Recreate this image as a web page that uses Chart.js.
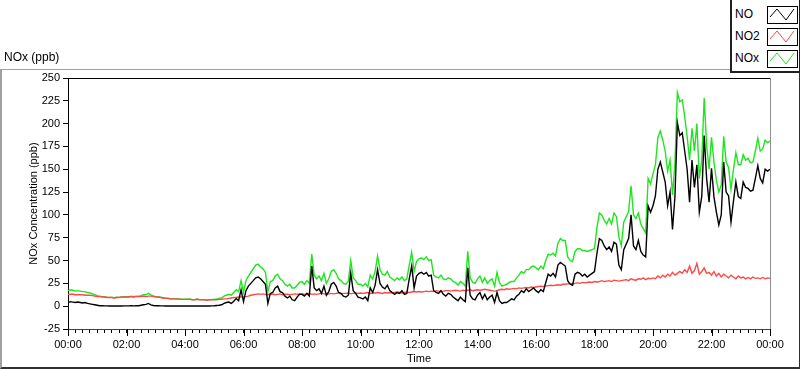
<!DOCTYPE html>
<html><head><meta charset="utf-8">
<script src="https://cdn.jsdelivr.net/npm/chart.js@4.4.1/dist/chart.umd.min.js"></script>
<style>
html,body{margin:0;padding:0;background:#fff;}
#wrap{position:relative;width:800px;height:369px;overflow:hidden;font-family:"Liberation Sans",Arial,sans-serif;color:#000;}
#c{position:absolute;left:0;top:0;}
#frame{position:absolute;left:0;top:69px;width:800px;height:300px;box-sizing:border-box;border-top:1px solid #a0a0a0;border-left:2px solid #a0a0a0;border-right:1px solid #303030;border-bottom:2px solid #303030;pointer-events:none;}
#title{position:absolute;left:4px;top:50px;font-size:12px;}
#legend{position:absolute;left:730px;top:0;width:70px;height:73px;box-sizing:border-box;border-left:2px solid #202020;border-bottom:2px solid #202020;border-right:1px solid #202020;background:#fff;}
.row{position:absolute;left:0;height:18px;width:68px;}
.row span{position:absolute;left:3px;top:0px;font-size:12px;line-height:16px;}
.row svg{position:absolute;left:35px;top:0;}
</style></head>
<body>
<div id="wrap">
  <canvas id="c" width="800" height="369"></canvas>
  <div id="frame"></div>
  <div id="title">NOx (ppb)</div>
  <div id="legend"></div>
</div>
<script>
// ---- data (5-minute samples, 00:00 .. 24:00) ----
const seriesNames = ['NO', 'NO2', 'NOx'];
const seriesColors = ['#000000', '#ff4848', '#1ee61e'];
const yTickMin = -25, yTickMax = 250, yTickStep = 25;

const noValues = [
 4,5,4.5,4,4.5,4,3.5,4,3,2.5,2,1.5,
 1,0.5,0.5,0.3,0.3,0.2,0.2,0.2,0.3,0.2,0.2,0.3,
 0.3,0.3,0.4,0.3,0.5,0.5,1,1.5,2,3,1.5,0.8,
 0.5,0.4,0.3,0.3,0.2,0.2,0.2,0.3,0.2,0.2,0.2,0.2,
 0.2,0.2,0.3,0.2,0.2,0.3,0.2,0.2,0.2,0.3,0.2,0.3,
 0.5,0.8,1,1.5,3,4,4.5,3,5.5,8.5,6,18,
 5,17,22,25,28,31,32,30,27,24,3,14,
 15,20,22,16,15,11,9,11,7,6,10,13,
 13,11,14,11,44,20,17,19,14,22,12,16,
 24,26,22,15,14,11,10,12,36,17,14,10,
 9,8,10,6,20,15,23,40,25,21,19,23,
 17,15,13,15,14,17,13,14,30,44,20,33,
 36,37,35,37,33,34,17,15,14,17,13,11,
 14,13,10,8,6,10,7,5,42,12,8,7,
 12,15,8,13,7,10,12,4,15,6,3,4,
 4,6,8,7,11,13,17,15,19,16,18,20,
 17,15,18,16,26,35,33,36,32,45,48,46,
 44,28,24,23,35,37,36,33,35,32,34,36,
 38,58,74,72,66,62,65,60,70,68,45,40,
 62,68,74,100,66,62,72,60,56,54,110,103,
 110,121,150,158,147,136,110,125,84,120,201,187,
 190,170,150,114,160,130,155,103,120,187,140,114,
 151,120,103,89,100,158,125,121,92,115,136,120,
 118,136,130,129,126,127,140,154,140,135,150,148,
 150
];

const no2Values = [
 13,13,13,12.5,12.5,12.5,12.5,12,12,12,11.5,11,
 10.5,10.5,10,10,9.5,9.5,9.5,9,9.5,9.5,10,10,
 10,10,10.5,10,10.5,10.5,10.5,11,10.5,11,11,10.5,
 10,10,9.5,9,8.5,8.5,8,8,8,8,7.5,7.5,
 7.5,7.5,7.5,7,7,7.5,7,7,7,6.5,7,7,
 7,7,7.5,7.5,8,8,8.5,9,9.5,9.5,10,10,
 10,10.5,11,12,12.5,13,13.5,13,13.5,13,12.5,13,
 13,12.5,13,13.5,12.5,13,13,12.5,13,13.5,13,13,
 13.5,13,13.5,14,13,13.5,13,13.5,14,13.5,13,13.5,
 14,13.5,14,14.5,13.5,14,14,14.5,13.5,14,14.5,14,
 14.5,14,14.5,15,14,14.5,14.5,15,14.5,14,15,14.5,
 15,14.5,15,15.5,15,14.5,15,15.5,15,15.5,16,15.5,
 16,15.5,16,16.5,16,16.5,16,17,16.5,16,16.5,17,
 17,16.5,17,17.5,17,16.5,17.5,17,17.5,18,17,17.5,
 18,17.5,18,18.5,18,17.5,17,16.5,17,18,18.5,18,
 19,18.5,19,19.5,19,20,19.5,20,20.5,20,21,20.5,
 21,21.5,22,21.5,22,22.5,23,22.5,23,23.5,23,24,
 24,24.5,25,24.5,25,25.5,25,26,25.5,26,26.5,26,
 27,26.5,27,28,27,27.5,28,27,28.5,28,27.5,28,
 28.5,29,28,30,29,28.5,30,29.5,31,29,30.5,30,
 31,30,33,31,34,32,35,33,37,34,36,38,
 36,40,37,44,36,39,47,35,38,42,36,37,
 34,38,33,36,32,35,33,31,34,32,30,33,
 31,32,30,31.5,30,32,30.5,31,30,31.5,30,31,
 30.5
];

const noxValues = [
 17,18,17.5,16.5,17,16.5,16,16,15,14.5,13.5,12.5,
 11.5,11,10.5,10.3,9.8,9.7,9.7,9.2,9.8,9.7,10.2,10.3,
 10.3,10.3,10.9,10.3,11,11,11.5,12.5,12.5,14,12.5,11.3,
 10.5,10.4,9.8,9.3,8.7,8.7,8.2,8.3,8.2,8.2,7.7,7.7,
 7.7,7.7,7.8,7.2,7.2,7.8,7.2,7.2,7.2,6.8,7.2,7.3,
 7.5,7.8,8.5,9,11,12,13,12,15,18,16,28,
 15,28,33,37,41,45,46,43,41,37,16,27,
 28,33,35,30,28,24,22,24,20,20,23,26,
 27,24,28,25,57,34,30,33,28,36,25,30,
 38,40,36,30,28,25,24,27,50,31,28,24,
 24,22,25,21,34,30,38,55,40,35,34,38,
 32,30,28,31,29,32,28,30,45,59,38,49,
 52,53,51,54,50,51,34,32,31,34,30,29,
 31,30,27,26,23,27,25,22,60,31,26,25,
 30,33,26,31,25,28,30,22,37,26,22,23,
 24,26,27,27,31,34,38,36,40,40,43,44,
 42,40,44,41,50,57,56,58,55,69,74,72,
 72,54,50,49,60,63,63,61,61,60,61,62,
 63,86,102,100,94,90,96,90,102,98,76,66,
 92,98,104,132,100,96,102,90,85,80,140,134,
 145,155,185,192,182,170,148,160,122,156,234,224,
 226,208,186,160,195,170,200,140,160,228,176,150,
 185,158,138,125,133,186,158,152,128,150,168,155,
 155,166,160,162,157,158,170,184,170,172,182,179,
 181
];

// category labels: one per 5-minute sample
const timeLabels = [];
for (let i = 0; i < noValues.length; i++) {
  const m = i * 5;
  const h = Math.floor(m / 60) % 24, mm = m % 60;
  timeLabels.push(String(h).padStart(2, '0') + ':' + String(mm).padStart(2, '0'));
}
const labelEvery = 24;   // 2 hours
const minorEvery = 3;    // 15 minutes

// ---- legend (HTML) ----
const leg = document.getElementById('legend');
seriesNames.forEach((n, i) => {
  const r = document.createElement('div');
  r.className = 'row';
  r.style.top = (6 + 22 * i) + 'px';
  r.innerHTML = '<span>' + n + '</span>' +
    '<svg width="31" height="18"><rect x="0.5" y="0.5" width="30" height="17" fill="#fff" stroke="#000" stroke-width="1"/>' +
    '<polyline points="3,11 10,3 19,14 27,3" fill="none" stroke="' + seriesColors[i] + '" stroke-width="1"/></svg>';
  leg.appendChild(r);
});

Chart.defaults.font.family = '"Liberation Sans", Arial, sans-serif';
Chart.defaults.font.size = 11;
Chart.defaults.color = '#000';

const framePlugin = {
  id: 'framePlugin',
  afterDraw(chart) {
    const {ctx, chartArea: a, scales} = chart;
    ctx.save();
    ctx.lineWidth = 1;
    ctx.strokeStyle = '#000';
    ctx.beginPath(); ctx.moveTo(a.left, a.top + 0.5); ctx.lineTo(a.right, a.top + 0.5); ctx.stroke();
    ctx.strokeStyle = '#909090';
    ctx.beginPath(); ctx.moveTo(a.right + 0.5, a.top); ctx.lineTo(a.right + 0.5, a.bottom); ctx.stroke();
    // longer major ticks every 2 h
    ctx.strokeStyle = '#000';
    ctx.beginPath();
    for (let i = 0; i < timeLabels.length; i += labelEvery) {
      const x = Math.round(scales.x.getPixelForValue(i)) + 0.5;
      ctx.moveTo(x, a.bottom); ctx.lineTo(x, a.bottom + 7);
    }
    ctx.stroke();
    ctx.restore();
  }
};

const values = [noValues, no2Values, noxValues];
new Chart(document.getElementById('c'), {
  type: 'line',
  data: {
    labels: timeLabels,
    datasets: seriesNames.map((n, i) => ({
      label: n, data: values[i], borderColor: seriesColors[i], backgroundColor: seriesColors[i],
      borderWidth: 1.4, pointRadius: 0, tension: 0, fill: false
    }))
  },
  options: {
    responsive: false, animation: false, devicePixelRatio: 1,
    layout: {padding: {top: 78, right: 30, left: 0, bottom: 0}},
    plugins: {legend: {display: false}, tooltip: {enabled: false}, title: {display: false}},
    scales: {
      x: {
        type: 'category',
        afterFit(s) { s.height = 40; },
        border: {display: true, color: '#404040', width: 1},
        grid: {drawOnChartArea: false, drawTicks: true, tickLength: 4,
               tickColor: c => (c.index % minorEvery === 0 ? '#000' : 'rgba(0,0,0,0)')},
        ticks: {autoSkip: false, maxRotation: 0, minRotation: 0, padding: 5,
                callback: (v, i) => (i % labelEvery === 0 ? timeLabels[i] : '')},
        title: {display: true, text: 'Time', font: {size: 11}, padding: {top: 0, bottom: 3}}
      },
      y: {
        min: yTickMin, max: yTickMax,
        afterFit(s) { s.width = 68; },
        border: {display: true, color: '#000', width: 1},
        grid: {drawOnChartArea: false, drawTicks: true, tickLength: 5, tickColor: '#000'},
        ticks: {stepSize: yTickStep, padding: 3},
        title: {display: true, text: 'NOx Concentration (ppb)', font: {size: 11}, padding: {top: 27, bottom: 0}}
      }
    }
  },
  plugins: [framePlugin]
});
</script>
</body></html>
